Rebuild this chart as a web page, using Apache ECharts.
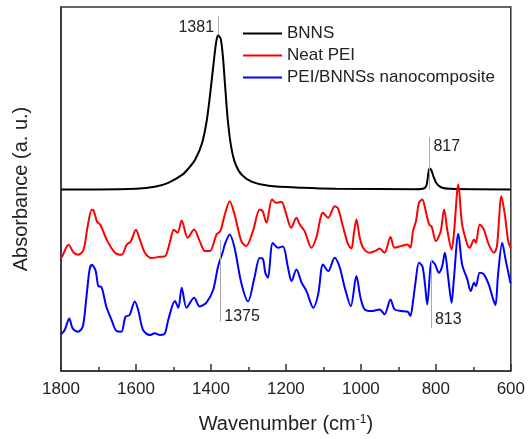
<!DOCTYPE html>
<html>
<head>
<meta charset="utf-8">
<script src="https://cdn.jsdelivr.net/npm/echarts@6/dist/echarts.min.js"></script>
<style>
  html, body { margin: 0; padding: 0; background: #fff; }
  #chart { width: 528px; height: 439px; }
</style>
</head>
<body>
<div id="chart"></div>
<script>
// wavenumber (cm-1), absorbance (a.u., curves already offset as in the figure)
const bnns = [
  [1800, 545], [1700, 545], [1600, 547], [1550, 553], [1514, 565], [1478, 588],
  [1460, 608], [1442, 635], [1424, 683], [1411, 753], [1402, 833], [1393, 923],
  [1386, 988], [1381, 1008], [1374, 998], [1368, 943], [1362, 853], [1355, 753],
  [1346, 673], [1335, 623], [1317, 588], [1290, 568], [1246, 556], [1156, 550],
  [1067, 547], [852, 546], [832, 548], [825, 558], [820, 593], [817, 608],
  [812, 603], [806, 583], [798, 563], [785, 551], [763, 547], [600, 545]
];
const neatPei = [
  [1800, 341], [1797, 344], [1780, 379], [1766, 355], [1754, 349], [1740, 364],
  [1729, 434], [1718, 484], [1713, 482], [1704, 449], [1695, 439], [1678, 394],
  [1656, 355], [1638, 349], [1625, 379], [1614, 389], [1600, 424], [1591, 399],
  [1576, 355], [1558, 339], [1536, 343], [1523, 344], [1509, 389], [1499, 424],
  [1489, 415], [1478, 452], [1462, 400], [1445, 425], [1430, 390], [1416, 360],
  [1403, 360], [1385, 410], [1375, 420], [1363, 470], [1350, 510], [1337, 470],
  [1319, 390], [1306, 375], [1288, 420], [1270, 485], [1262, 480], [1252, 445],
  [1237, 515], [1226, 505], [1212, 508], [1199, 470], [1186, 430], [1172, 460],
  [1163, 440], [1150, 420], [1132, 370], [1119, 400], [1101, 475], [1087, 460],
  [1070, 495], [1061, 488], [1047, 430], [1034, 380], [1025, 368], [1019, 410],
  [1012, 455], [1003, 400], [994, 370], [977, 355], [959, 362], [950, 368],
  [937, 355], [921, 402], [910, 370], [893, 375], [875, 380], [868, 370],
  [861, 420], [853, 450], [845, 505], [836, 515], [829, 490], [818, 440],
  [811, 433], [800, 390], [787, 420], [778, 485], [769, 420], [758, 365],
  [752, 410], [740, 560], [730, 440], [716, 380], [710, 370], [698, 395],
  [693, 385], [683, 440], [672, 425], [659, 380], [645, 355], [637, 375],
  [625, 525], [616, 470], [607, 390], [600, 368]
];
const composite = [
  [1800, 110], [1790, 123], [1778, 158], [1769, 128], [1755, 118], [1742, 133],
  [1733, 213], [1724, 303], [1718, 319], [1708, 303], [1700, 254], [1693, 253],
  [1679, 193], [1665, 153], [1652, 120], [1639, 118], [1628, 163], [1617, 168],
  [1603, 209], [1594, 183], [1581, 123], [1563, 108], [1550, 113], [1536, 108],
  [1523, 113], [1514, 153], [1496, 210], [1487, 190], [1478, 250], [1465, 190],
  [1445, 220], [1430, 194], [1412, 205], [1394, 244], [1381, 314], [1368, 359],
  [1363, 380], [1350, 410], [1337, 370], [1319, 264], [1301, 209], [1284, 280],
  [1270, 339], [1261, 335], [1255, 295], [1248, 280], [1235, 384], [1221, 370],
  [1208, 374], [1195, 314], [1185, 270], [1172, 305], [1158, 265], [1145, 240],
  [1127, 190], [1114, 230], [1101, 320], [1087, 300], [1070, 340], [1057, 313],
  [1043, 250], [1027, 195], [1012, 285], [1001, 220], [990, 185], [972, 180],
  [950, 185], [937, 170], [921, 215], [910, 185], [893, 180], [875, 178],
  [868, 165], [861, 208], [855, 260], [845, 325], [836, 315], [829, 260],
  [823, 200], [811, 330], [802, 320], [792, 295], [783, 315], [776, 355],
  [767, 280], [758, 205], [752, 275], [740, 412], [730, 320], [716, 275],
  [707, 240], [698, 265], [693, 255], [683, 295], [672, 290], [659, 260],
  [647, 215], [641, 198], [634, 290], [623, 385], [614, 335], [601, 265],
  [600, 263]
];
const seriesNames = ['BNNS', 'Neat PEI', 'PEI/BNNSs nanocomposite'];
const xTicks = [600, 800, 1000, 1200, 1400, 1600, 1800];
const bnnsPeaks = [1381, 817];
const compositePeaks = [1375, 813];

const font = 'Liberation Sans, Arial, sans-serif';
const chart = echarts.init(document.getElementById('chart'));

const guide = { color: '#aaa', width: 1, type: 'solid' };
const peakText = { show: true, formatter: '{b}', color: '#222', fontSize: 16, fontFamily: font, distance: 4 };

const option = {
  animation: false,
  textStyle: { fontFamily: font },
  grid: { left: 61, right: 16, top: 7, bottom: 67, show: true, borderColor: '#333', borderWidth: 1.5 },
  legend: {
    orient: 'vertical',
    left: 243,
    top: 25,
    padding: 0,
    icon: 'rect',
    itemWidth: 39,
    itemHeight: 2,
    itemGap: 5,
    textStyle: { fontSize: 17, color: '#222', fontFamily: font, lineHeight: 17 },
    data: seriesNames
  },
  xAxis: {
    type: 'value',
    inverse: true,
    min: xTicks[0],
    max: xTicks[xTicks.length - 1],
    interval: 200,
    name: 'Wavenumber (cm{sup|-1})',
    nameLocation: 'middle',
    nameGap: 43,
    nameTextStyle: {
      fontSize: 20, color: '#222', fontFamily: font,
      rich: { sup: { fontSize: 12, color: '#222', verticalAlign: 'top', lineHeight: 14, fontFamily: font } }
    },
    axisLine: { lineStyle: { color: '#333', width: 1.5 } },
    axisTick: { inside: true, length: 7, lineStyle: { color: '#333', width: 1.5 } },
    minorTick: { show: true, splitNumber: 2, length: 4, lineStyle: { color: '#333', width: 1.5 } },
    axisLabel: { fontSize: 17, color: '#222', margin: 10, fontFamily: font, formatter: v => String(v) },
    splitLine: { show: false }
  },
  yAxis: {
    type: 'value',
    min: 0,
    max: 1093,
    name: 'Absorbance (a. u.)',
    nameLocation: 'middle',
    nameGap: 30,
    nameTextStyle: { fontSize: 20, color: '#222', fontFamily: font },
    axisLine: { show: true, lineStyle: { color: '#333', width: 1.5 } },
    axisTick: { show: false },
    axisLabel: { show: false },
    splitLine: { show: false }
  },
  series: [
    {
      name: seriesNames[0], type: 'line', data: bnns, symbol: 'none', smooth: 0.3,
      lineStyle: { color: '#000', width: 2 }, itemStyle: { color: '#000' },
      markLine: {
        silent: true, symbol: ['none', 'none'], label: { show: false }, lineStyle: guide,
        data: [
          [{ coord: [bnnsPeaks[0], 1008] }, { coord: [bnnsPeaks[0], 1065] }],
          [{ coord: [bnnsPeaks[1], 545] }, { coord: [bnnsPeaks[1], 703] }]
        ]
      },
      markPoint: {
        silent: true, symbol: 'circle', symbolSize: 0,
        data: [
          { name: String(bnnsPeaks[0]), coord: [bnnsPeaks[0], 1030], label: Object.assign({}, peakText, { position: 'left' }) },
          { name: String(bnnsPeaks[1]), coord: [bnnsPeaks[1], 673], label: Object.assign({}, peakText, { position: 'right' }) }
        ]
      }
    },
    {
      name: seriesNames[1], type: 'line', data: neatPei, symbol: 'none', smooth: 0.3,
      lineStyle: { color: '#ff0000', width: 2 }, itemStyle: { color: '#ff0000' }
    },
    {
      name: seriesNames[2], type: 'line', data: composite, symbol: 'none', smooth: 0.3,
      lineStyle: { color: '#0000ff', width: 2 }, itemStyle: { color: '#0000ff' },
      markLine: {
        silent: true, symbol: ['none', 'none'], label: { show: false }, lineStyle: guide,
        data: [
          [{ coord: [compositePeaks[0], 393] }, { coord: [compositePeaks[0], 148] }],
          [{ coord: [compositePeaks[1], 335] }, { coord: [compositePeaks[1], 128] }]
        ]
      },
      markPoint: {
        silent: true, symbol: 'circle', symbolSize: 0,
        data: [
          { name: String(compositePeaks[0]), coord: [compositePeaks[0], 163], label: Object.assign({}, peakText, { position: 'right' }) },
          { name: String(compositePeaks[1]), coord: [compositePeaks[1], 153], label: Object.assign({}, peakText, { position: 'right' }) }
        ]
      }
    }
  ]
};
chart.setOption(option);
</script>
</body>
</html>
